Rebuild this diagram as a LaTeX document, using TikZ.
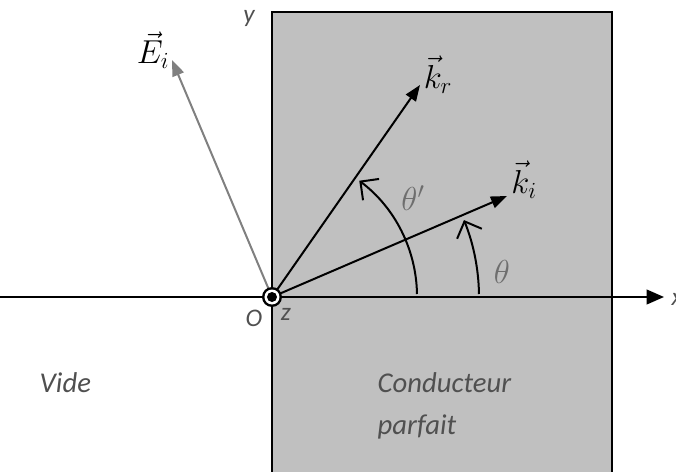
\documentclass[tikz,border=0pt]{standalone}
\usepackage{fontspec}
\setmainfont{Carlito}
\usetikzlibrary{arrows.meta}
\definecolor{condgray}{RGB}{192,192,192}
\definecolor{txtgray}{RGB}{80,80,80}
\definecolor{vecgray}{RGB}{128,128,128}
\definecolor{thgray}{RGB}{110,110,110}
\begin{document}
\begin{tikzpicture}[x=0.75pt,y=0.75pt,
  vecarrow/.style={line width=1.5pt,-{Triangle[length=12pt,width=9pt]}},
  anglearc/.style={line width=1.5pt,-{Straight Barb[length=10pt,width=20pt,line width=1.5pt]}},
  axislabel/.style={font=\fontsize{19}{22}\selectfont\itshape,text=txtgray},
  veclabel/.style={font=\fontsize{27}{30}\selectfont},
  anglelabel/.style={font=\fontsize{24}{28}\selectfont,text=thgray},
  bodytext/.style={font=\fontsize{21.5}{24}\selectfont\itshape,text=txtgray}]
\useasboundingbox (-272,-175) rectangle (404,297);
% conductor
\fill[condgray] (0,-190) rectangle (340,285);
\draw[line width=2pt] (0,-190) -- (0,285) -- (340,285) -- (340,-190);
% x axis
\coordinate (O) at (0,0);
\coordinate (xstart) at (-272,0);
\coordinate (xtip) at (392,0);
\draw[line width=1.5pt,-{Triangle[length=13pt,width=11pt]}] (xstart) -- (xtip);
% angle arcs
\draw[anglearc] (207,3) arc[start angle=1,end angle=22,radius=207];
\draw[anglearc] (145,3) arc[start angle=1,end angle=53,radius=145];
% vectors
\coordinate (kr) at (148,212);
\coordinate (ki) at (235,101);
\coordinate (Ei) at (-100,237);
\draw[vecarrow] (O) -- (kr);
\draw[vecarrow] (O) -- (ki);
\draw[vecarrow,color=vecgray] (O) -- (Ei);
% origin marker
\fill[black] (O) circle (10);
\fill[white] (O) circle (7.5);
\fill[black] (O) circle (5);
% labels
\node[veclabel] (lkr) at (166,222) {$\vec{k}_r$};
\node[veclabel] (lki) at (252,117) {$\vec{k}_i$};
\node[veclabel] (lEi) at (-119,247) {$\vec{E}_i$};
\node[anglelabel] (lth) at (230,25) {$\theta$};
\node[anglelabel] (lthp) at (141,99) {$\theta'$};
\node[axislabel,anchor=west] (lx) at (395,-2) {x};
\node[axislabel] (ly) at (-23,279) {y};
\node[axislabel] (lO) at (-18,-21) {O};
\node[axislabel] (lz) at (14,-17) {z};
\node[bodytext,anchor=base west] (vide) at (-237,-95) {Vide};
\node[bodytext,anchor=base west] (cond) at (101,-95) {Conducteur};
\node[bodytext,anchor=base west] (parf) at (101,-137) {parfait};
\end{tikzpicture}
\end{document}
